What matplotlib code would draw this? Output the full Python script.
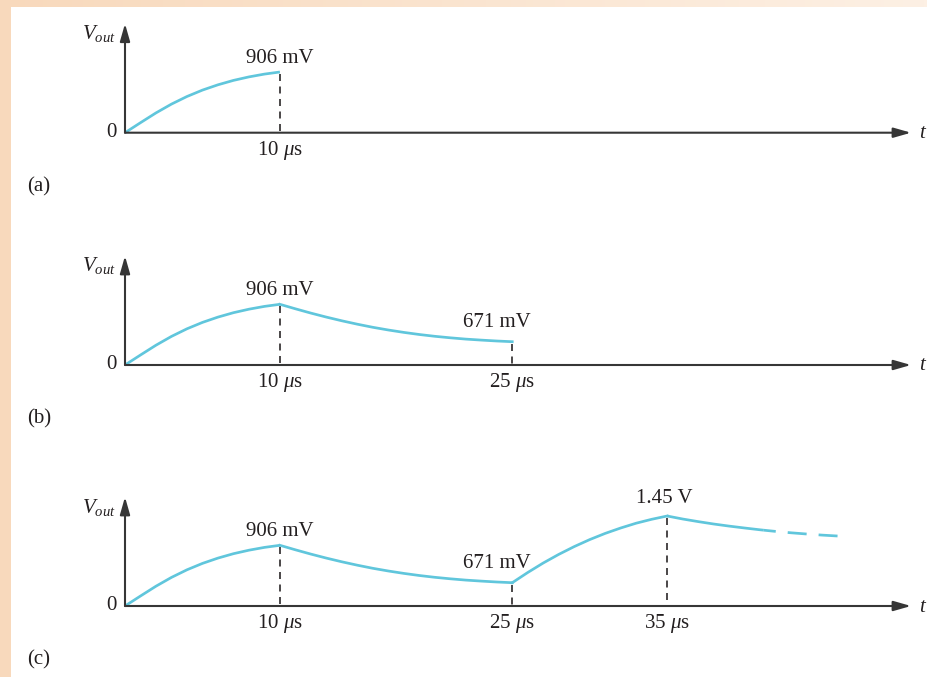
import matplotlib
matplotlib.use("Agg")
import matplotlib.pyplot as plt
import numpy as np
from matplotlib.colors import LinearSegmentedColormap
from matplotlib.patches import Rectangle

# ---------------- data (time in microseconds, voltage in drawn units) ----------------
t_rise1 = [0, 1, 2, 3, 4, 5, 6, 7, 8, 9, 10]
v_rise1 = [0, 10.0, 19.8, 28.6, 36.2, 42.6, 47.9, 52.3, 55.8, 58.6, 60.7]

t_decay1 = [10, 11, 12, 13, 14, 15, 16, 17, 18, 19, 20, 21, 22, 23, 24, 25]
v_decay1 = [60.7, 56.2, 51.9, 47.9, 44.2, 40.8, 37.7, 35.0, 32.6, 30.5,
            28.7, 27.2, 25.9, 24.9, 24.0, 23.3]

t_rise2 = [25, 26, 27, 28, 29, 30, 31, 32, 33, 34, 35]
v_rise2 = [23.3, 33.5, 43.0, 51.6, 59.4, 66.4, 72.6, 78.0, 82.8, 86.7, 90.0]

t_decay2 = [35, 36, 37, 38, 39, 40, 41, 41.24]
v_decay2 = [90.0, 87.0, 84.4, 82.0, 79.9, 78.0, 76.2, 75.8]

t_tail = [41.24, 42, 43, 44, 45, 46]
v_tail = [75.8, 74.6, 73.2, 72.0, 70.9, 70.0]

switch_times = [10, 25, 35]
switch_tick_labels = [r"10 $\mu$s", r"25 $\mu$s", r"35 $\mu$s"]
switch_values = [60.7, 23.3, 90.0]
switch_value_labels = ["906 mV", "671 mV", "1.45 V"]
panel_labels = ["(a)", "(b)", "(c)"]

# ---------------- style ----------------
plt.rcParams["font.family"] = ["Liberation Serif", "DejaVu Serif"]
plt.rcParams["mathtext.fontset"] = "custom"
plt.rcParams["mathtext.rm"] = "Liberation Serif"
plt.rcParams["mathtext.it"] = "Liberation Serif:italic"
plt.rcParams["lines.scale_dashes"] = False

W, H = 928, 677
PT = 0.72  # points per pixel at 100 dpi
CURVE = "#60c6dc"
INK = "#231f20"
AXC = "#363636"
FS = 15

fig = plt.figure(figsize=(W / 100, H / 100), dpi=100)

# background: peach border with white sheet
bg = fig.add_axes([0, 0, 1, 1])
bg.set_axis_off()
grad = np.linspace(0, 1, 256).reshape(1, -1)
cmap = LinearSegmentedColormap.from_list("bg", ["#f8d9bc", "#fdf0e4"])
bg.imshow(grad, aspect="auto", cmap=cmap, extent=[0, W, 0, H])
bg.add_patch(Rectangle((11, 0), W - 11, H - 7.3, color="white", lw=0))
bg.set_xlim(0, W)
bg.set_ylim(0, H)

PX_PER_US = 15.49
X0 = 125
T_AXIS_END = (911 - X0) / PX_PER_US
V_AXIS_TOP = 109
axis_rows = [132.7, 365, 606]


def make_ax(axis_y):
    below, above = 70, 125
    bottom_px = H - (axis_y + below)
    ax = fig.add_axes([0, bottom_px / H, 1, (below + above) / H])
    ax.set_xlim(-X0 / PX_PER_US, (W - X0) / PX_PER_US)
    ax.set_ylim(-below, above)
    ax.set_axis_off()
    ax.patch.set_alpha(0)
    return ax


arrow = dict(arrowstyle="-|>,head_length=1.05,head_width=0.3", color=AXC,
             lw=1.5, shrinkA=0, shrinkB=0, mutation_scale=10)

for i, ay in enumerate(axis_rows):
    ax = make_ax(ay)
    # axes with arrows
    ax.annotate("", xy=(T_AXIS_END, 0), xytext=(0, 0), arrowprops=arrow)
    ax.annotate("", xy=(0, V_AXIS_TOP), xytext=(0, 0), arrowprops=arrow)
    ax.annotate("$V_{out}$", xy=(0, 0), xytext=(-9 * PT, 99 * PT),
                textcoords="offset points", ha="right", va="center",
                fontsize=FS, color=INK)
    ax.annotate("0", xy=(0, 0), xytext=(-8 * PT, 0), textcoords="offset points",
                ha="right", va="center", fontsize=FS, color=INK)
    ax.annotate("t", xy=(T_AXIS_END, 0), xytext=(11 * PT, -1 * PT),
                textcoords="offset points", ha="center", va="center",
                fontsize=FS, color=INK, style="italic")
    ax.annotate(panel_labels[i], xy=(0, 0), xytext=(-98 * PT, -54 * PT),
                textcoords="offset points", ha="left", va="center",
                fontsize=FS, color=INK)

    n = i + 1  # number of switching instants shown
    lw = 2.7 * PT
    ax.plot(t_rise1, v_rise1, color=CURVE, lw=lw, solid_capstyle="butt",
            solid_joinstyle="round")
    if n >= 2:
        ax.plot(t_decay1, v_decay1, color=CURVE, lw=lw, solid_joinstyle="round")
    if n >= 3:
        ax.plot(t_rise2, v_rise2, color=CURVE, lw=lw, solid_joinstyle="round")
        ax.plot(t_decay2, v_decay2, color=CURVE, lw=lw, solid_capstyle="butt",
                solid_joinstyle="round")
        ax.plot(t_tail, v_tail, color=CURVE, lw=lw,
                linestyle=(7 * PT, (19 * PT, 12 * PT)), dash_capstyle="butt")

    for k in range(n):
        ts, vs = switch_times[k], switch_values[k]
        ax.plot([ts, ts], [vs - 2, 0], color=INK, lw=1.6 * PT,
                linestyle=(0, (7 * PT, 5.5 * PT)))
        ax.annotate(switch_tick_labels[k], xy=(ts, 0), xytext=(0, -22 * PT),
                    textcoords="offset points", ha="center", va="baseline",
                    fontsize=FS, color=INK)
        if k == 0:
            off = (0, 9 * PT)
        elif k == 1:
            off = (-15 * PT, 15 * PT)
        else:
            off = (-3 * PT, 13 * PT)
        ax.annotate(switch_value_labels[k], xy=(ts, vs), xytext=off,
                    textcoords="offset points", ha="center", va="baseline",
                    fontsize=FS, color=INK)

fig.savefig("out.png", dpi=100)
